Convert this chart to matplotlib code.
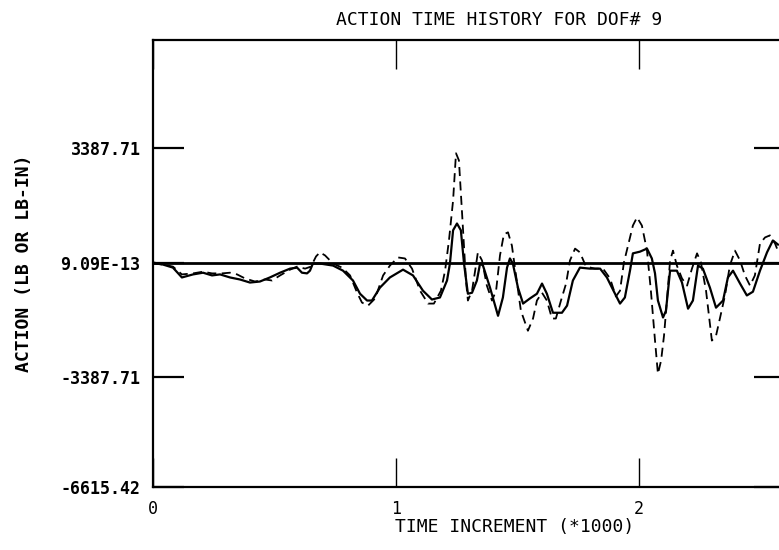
import numpy as np
import matplotlib
matplotlib.use("Agg")
import matplotlib.pyplot as plt

plt.rcParams['font.family'] = ['DejaVu Sans Mono']

# time increment (*1000) and member action, solid = computed, dashed = measured
t_solid = [0.000, 0.041, 0.082, 0.119, 0.165, 0.206, 0.243, 0.276, 0.317, 0.358,
           0.399, 0.440, 0.481, 0.523, 0.564, 0.593, 0.613, 0.634, 0.646, 0.658,
           0.687, 0.741, 0.782, 0.823, 0.852, 0.881, 0.901, 0.934, 0.975, 1.029,
           1.070, 1.111, 1.148, 1.181, 1.210, 1.222, 1.235, 1.251, 1.267, 1.280,
           1.296, 1.313, 1.333, 1.346, 1.358, 1.387, 1.420, 1.440, 1.457, 1.469,
           1.481, 1.502, 1.523, 1.551, 1.580, 1.601, 1.621, 1.646, 1.683, 1.704,
           1.728, 1.757, 1.798, 1.840, 1.868, 1.893, 1.922, 1.942, 1.963, 1.975,
           2.004, 2.033, 2.053, 2.066, 2.078, 2.099, 2.111, 2.128, 2.156, 2.177,
           2.202, 2.222, 2.243, 2.263, 2.292, 2.317, 2.346, 2.366, 2.387, 2.416,
           2.444, 2.469, 2.498, 2.527, 2.551, 2.572]
a_solid = [0, -60, -150, -440, -350, -300, -380, -350, -440, -500,
           -590, -560, -440, -300, -180, -150, -300, -320, -240, -30,
           -30, -90, -240, -530, -920, -1120, -1120, -740, -440, -210,
           -380, -830, -1090, -1030, -530, -30, 950, 1150, 950, -30,
           -920, -890, -530, -30, -90, -740, -1570, -1030, -150, 120,
           -30, -740, -1210, -1060, -920, -620, -920, -1480, -1480, -1270,
           -530, -150, -180, -180, -440, -800, -1210, -1030, -240, 270,
           320, 410, 120, -320, -1120, -1620, -1420, -240, -240, -590,
           -1360, -1120, -90, -180, -740, -1330, -1120, -440, -240, -620,
           -970, -860, -240, 300, 650, 530]

t_dash = [0.000, 0.041, 0.082, 0.119, 0.165, 0.206, 0.243, 0.284, 0.317, 0.346,
          0.379, 0.420, 0.461, 0.490, 0.523, 0.564, 0.593, 0.626, 0.650, 0.671,
          0.687, 0.708, 0.741, 0.778, 0.811, 0.840, 0.860, 0.885, 0.914, 0.947,
          0.975, 1.008, 1.037, 1.066, 1.099, 1.132, 1.156, 1.185, 1.202, 1.218,
          1.235, 1.247, 1.259, 1.272, 1.288, 1.296, 1.313, 1.329, 1.337, 1.354,
          1.374, 1.395, 1.412, 1.428, 1.444, 1.461, 1.477, 1.494, 1.514, 1.543,
          1.564, 1.580, 1.601, 1.621, 1.642, 1.658, 1.679, 1.700, 1.716, 1.737,
          1.757, 1.782, 1.819, 1.852, 1.881, 1.905, 1.922, 1.938, 1.955, 1.975,
          1.992, 2.012, 2.033, 2.049, 2.066, 2.078, 2.091, 2.103, 2.115, 2.128,
          2.140, 2.156, 2.177, 2.198, 2.218, 2.239, 2.255, 2.276, 2.300, 2.317,
          2.333, 2.354, 2.374, 2.395, 2.416, 2.436, 2.457, 2.477, 2.498, 2.519,
          2.539, 2.560, 2.576]
a_dash = [-30, -60, -120, -350, -320, -270, -320, -320, -300, -350,
          -470, -560, -500, -530, -380, -210, -120, -180, -120, 180,
          300, 210, -30, -150, -380, -890, -1180, -1270, -1060, -380,
          -90, 150, 120, -180, -830, -1210, -1210, -830, -240, 650,
          1830, 3220, 3010, 1450, -530, -1120, -830, -90, 300, 60,
          -680, -1120, -830, 210, 830, 890, 500, -380, -1420, -2010,
          -1650, -1120, -890, -1120, -1650, -1650, -1120, -620, 60, 410,
          300, -120, -180, -180, -470, -1000, -830, 0, 500, 1090,
          1330, 1090, 350, -830, -2300, -3280, -2890, -2160, -1120, 60,
          350, -90, -470, -680, -180, 270, 0, -830, -2300, -2160,
          -1650, -970, -90, 350, 60, -380, -680, -380, 560, 740,
          800, 560, 270]

x_ticks = [0, 1, 2]
y_ticks = [-6615.42, -3387.71, 9.09e-13, 3387.71]
y_ticklabels = ["-6615.42", "-3387.71", "9.09E-13", "3387.71"]

fig = plt.figure(figsize=(7.79, 5.50), dpi=100)
ax = fig.add_axes([0.1964, 0.1145, 0.811, 0.8127])

ax.axhline(0, color='black', lw=2.0)
ax.plot(t_solid, a_solid, color='black', lw=1.6)
dash_line, = ax.plot(t_dash, a_dash, color='black', lw=1.3)
dash_line.set_dashes([5, 3])

ax.set_xlim(0, 2.6)
ax.set_ylim(-6615.42, 6556)

ax.set_xticks(x_ticks)
ax.set_xticklabels([str(v) for v in x_ticks], fontsize=12)
ax.set_yticks(y_ticks)
ax.set_yticklabels(y_ticklabels, fontsize=12, fontweight='bold')

ax.tick_params(axis='x', direction='in', length=21, width=1.0,
               top=True, bottom=True, pad=9)
ax.tick_params(axis='y', direction='in', length=22, width=1.6,
               left=True, right=True, pad=9)
for s in ax.spines.values():
    s.set_linewidth(1.6)

fig.text(0.6405, 1 - 20 / 550, "ACTION TIME HISTORY FOR DOF# 9",
         ha='center', va='center', fontsize=13)
fig.text(515 / 779, 1 - 527 / 550, "TIME INCREMENT (*1000)",
         ha='center', va='center', fontsize=13)
fig.text(24 / 779, 1 - 263 / 550, "ACTION (LB OR LB-IN)",
         ha='center', va='center', rotation=90, fontsize=13, fontweight='bold')

fig.savefig('out.png', dpi=100)
